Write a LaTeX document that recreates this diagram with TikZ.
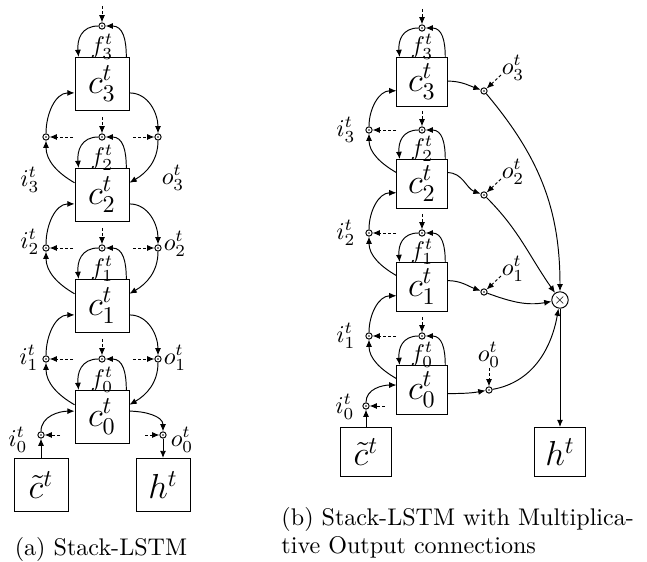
\documentclass[tikz,border=0pt]{standalone}
\usepackage{tikz}
\usetikzlibrary{arrows.meta,positioning,calc}

\begin{document}
\begin{tikzpicture}[
    x=0.415pt, y=0.415pt,
    >={Latex[length=3pt,width=2.5pt]},
    cell/.style={rectangle, draw, inner sep=0pt, minimum width=22.4pt, minimum height=22pt, font=\Large},
    cellb/.style={cell, minimum width=20.8pt, minimum height=20.3pt},
    gate/.style={circle, draw, inner sep=0pt, minimum size=2.6pt,
        path picture={\fill (path picture bounding box.center) circle (0.35pt);}},
    prod/.style={circle, draw, inner sep=0pt, minimum size=6.6pt, font=\tiny},
    glabel/.style={inner sep=0pt},
    peep/.style={->, dash pattern=on 1.2pt off 0.9pt},
    floop/.style={->, looseness=1.2},
    caption/.style={inner sep=0pt, font=\normalsize}
]
\useasboundingbox (0,0) rectangle (647,-562);

% ---------- (a) Stack-LSTM ----------
% Cells with forget loops
\foreach \k/\y in {3/84, 2/195, 1/306, 0/417} {
    \node[cell] (ca\k) at (102,-\y) {$c_\k^t$};
    \node[gate] (fa\k) at (102,-\y+58) {};
    \coordinate (fa\k-in) at (102,-\y+78);
    \node[glabel] (fla\k) at (102,-\y+37) {$f_\k^t$};
    \draw[peep] (fa\k-in) -- (fa\k);
    \draw[floop] (ca\k.48) to[out=90,in=0] (fa\k);
    \draw[floop] (fa\k) to[out=180,in=95] (ca\k.131);
}

% Input and output gates between cells
\foreach \k/\j/\y in {2/3/195, 1/2/306, 0/1/417} {
    \node[gate] (ia\j) at (46,-\y+58) {};
    \node[gate] (oa\j) at (158,-\y+58) {};
    \coordinate (ia\j-in) at (73,-\y+58);
    \coordinate (oa\j-in) at (133,-\y+58);
    \draw[peep] (ia\j-in) -- (ia\j);
    \draw[peep] (oa\j-in) -- (oa\j);
    \draw[->] (ca\k.156) to[out=150,in=-90] (ia\j);
    \draw[->] (ia\j) to[out=90,in=180] (ca\j.198);
    \draw[->] (ca\j.342) to[out=0,in=90] (oa\j);
    \draw[->] (oa\j) to[out=-90,in=30] (ca\k.24);
}

% Gate labels
\node[glabel] (lia3) at (30,-180) {$i_3^t$};
\node[glabel] (lia2) at (30,-242) {$i_2^t$};
\node[glabel] (lia1) at (29,-358) {$i_1^t$};
\node[glabel] (lia0) at (18,-440) {$i_0^t$};
\node[glabel] (loa3) at (173,-178) {$o_3^t$};
\node[glabel] (loa2) at (175,-244) {$o_2^t$};
\node[glabel] (loa1) at (175,-358) {$o_1^t$};
\node[glabel] (loa0) at (182,-440) {$o_0^t$};

% Bottom cell, input and output
\node[cell] (ctila) at (41,-485) {$\tilde{c}^t$};
\node[cell] (ha) at (163,-485) {$h^t$};
\node[gate] (ia0) at (41,-435) {};
\node[gate] (oa0) at (163,-435) {};
\coordinate (ia0-in) at (60,-435);
\coordinate (oa0-in) at (145,-435);
\draw[peep] (ia0-in) -- (ia0);
\draw[peep] (oa0-in) -- (oa0);
\draw[->] (ctila) -- (ia0);
\draw[->] (ia0) to[out=90,in=180] (ca0.168);
\draw[->] (ca0.12) to[out=0,in=90] (oa0);
\draw[->] (oa0) -- (ha);

% ---------- (b) Multiplicative Output ----------
\foreach \k/\y in {3/82, 2/184, 1/287, 0/390} {
    \node[cellb] (cb\k) at (422,-\y) {$c_\k^t$};
    \node[gate] (fb\k) at (422,-\y+54) {};
    \coordinate (fb\k-in) at (422,-\y+73);
    \node[glabel] (flb\k) at (422,-\y+35) {$f_\k^t$};
    \draw[peep] (fb\k-in) -- (fb\k);
    \draw[floop] (cb\k.47) to[out=90,in=0] (fb\k);
    \draw[floop] (fb\k) to[out=180,in=95] (cb\k.132);
}

% Input gates
\foreach \k/\j/\y in {2/3/184, 1/2/287, 0/1/390} {
    \node[gate] (ib\j) at (369,-\y+54) {};
    \coordinate (ib\j-in) at (396,-\y+54);
    \node[glabel] (lib\j) at (346,-\y+54) {$i_\j^t$};
    \draw[peep] (ib\j-in) -- (ib\j);
    \draw[->] (cb\k.156) to[out=150,in=-90] (ib\j);
    \draw[->] (ib\j) to[out=90,in=180] (cb\j.199);
}

\node[prod] (mul) at (560,-300) {$\times$};
\node[cellb] (ctilb) at (366,-452) {$\tilde{c}^t$};
\node[cellb] (hb) at (560,-452) {$h^t$};

% Output gates
\foreach \k/\e/\g in {3/2/91, 2/24/195, 1/14/292} {
    \node[gate] (ob\k) at (484,-\g) {};
    \coordinate (ob\k-in) at (501,-\g+16);
    \node[glabel] (lob\k) at (513,-\g+23) {$o_\k^t$};
    \draw[peep] (ob\k-in) -- (ob\k);
    \draw[->] (cb\k.\e) to[out=0,in=160] (ob\k);
}
\draw[->] (ob3) to[out=-50,in=90] (mul);
\draw[->] (ob2) to[out=-45,in=125] (mul);
\draw[->] (ob1) to[out=-20,in=190] (mul);

\node[gate] (ob0) at (489,-390) {};
\coordinate (ob0-in) at (489,-368);
\node[glabel] (lob0) at (489,-355) {$o_0^t$};
\draw[peep] (ob0-in) -- (ob0);
\draw[->] (cb0.352) to[out=0,in=190] (ob0);
\draw[->] (ob0) to[out=10,in=-100] (mul);
\draw[->] (mul) -- (hb);

\node[gate] (ib0) at (366,-406) {};
\coordinate (ib0-in) at (385,-406);
\node[glabel] (lib0) at (345,-407) {$i_0^t$};
\draw[peep] (ib0-in) -- (ib0);
\draw[->] (ctilb) -- (ib0);
\draw[->] (ib0) to[out=90,in=180] (cb0.169);

% Captions
\node[caption, anchor=base] (capa) at (101,-556) {(a) Stack-LSTM};
\node[caption, anchor=base west, align=left] (capb) at (281,-554) {(b) Stack-LSTM with Multiplica-\\tive Output connections};

\end{tikzpicture}
\end{document}
